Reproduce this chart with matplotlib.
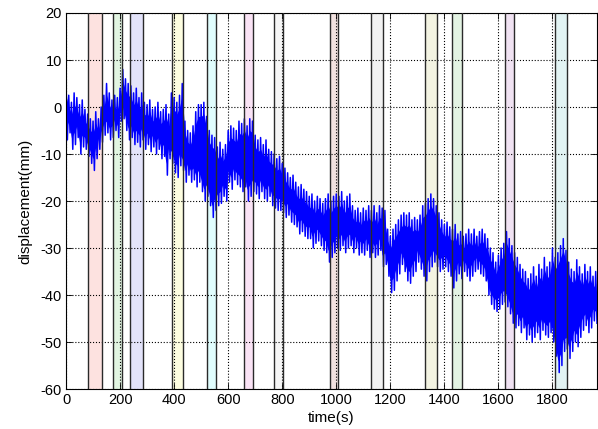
############################################
#import libraries
############################################

import numpy as np
import matplotlib
matplotlib.use('Agg')
import matplotlib.pyplot as plt

############################################
#data (envelope every 10 s)
############################################

t_step = 10
t = np.arange(0, 1970, t_step)

upper = [5.0, 2.5, 1.0, 3.0, 2.0, 0.5, 1.5, -0.5, -1.5, -2.5,
         -3.0, -1.0, -2.5, 0.0, 2.5, 5.0, 3.0, 1.5, 2.5, 2.0,
         4.0, 8.0, 6.0, 5.0, 4.5, 3.0, 4.0, 2.0, 3.0, 1.0,
         0.5, 1.5, -0.5, 0.0, 1.0, -1.0, -0.5, 0.5, -1.5, 3.0,
         2.0, 1.0, 2.5, 5.0, -3.0, -5.0, -5.5, -4.0, -1.0, 0.5,
         0.5, 1.0, -2.0, -5.0, -6.0, -6.5, -8.5, -7.5, -9.0, -8.0,
         -5.0, -4.0, -4.5, -5.0, -3.0, -3.5, -2.5, -4.0, -2.5, -3.0,
         -6.0, -7.0, -6.5, -8.0, -7.0, -9.0, -9.5, -10.0, -11.0, -10.5,
         -12.0, -13.0, -14.0, -15.0, -14.5, -16.0, -17.0, -16.5, -17.5, -18.0,
         -19.0, -18.5, -20.0, -19.0, -19.5, -20.5, -19.5, -18.5, -20.0, -19.0,
         -18.5, -19.0, -18.0, -20.0, -19.0, -18.5, -21.0, -22.0, -21.5, -22.5,
         -21.5, -22.0, -21.0, -22.0, -21.0, -22.5, -21.0, -21.5, -22.0, -26.0,
         -27.5, -26.0, -25.0, -24.0, -23.0, -22.5, -23.0, -22.5, -24.0, -23.5,
         -24.0, -23.0, -21.0, -20.5, -19.5, -18.5, -19.5, -21.0, -22.5, -24.0,
         -25.0, -24.5, -25.5, -26.0, -25.0, -27.0, -26.5, -27.5, -27.0, -26.0,
         -27.0, -26.0, -27.5, -26.5, -26.0, -27.0, -28.0, -30.0, -31.0, -33.0,
         -31.5, -30.0, -29.0, -26.5, -28.0, -29.5, -31.0, -32.0, -33.5, -34.5,
         -35.0, -36.5, -35.5, -34.0, -36.0, -33.5, -34.5, -32.0, -34.0, -33.0,
         -30.0, -32.0, -31.0, -29.5, -28.0, -30.5, -33.0, -34.5, -35.0, -32.5,
         -34.0, -35.5, -33.5, -35.0, -34.0, -36.0, -35.0]

lower = [-7.0, -5.5, -9.0, -8.0, -6.5, -10.0, -8.5, -9.0, -10.5, -12.0,
         -13.5, -11.0, -9.0, -7.5, -6.0, -5.5, -7.0, -6.5, -5.0, -6.5,
         -3.0, -2.5, -5.0, -7.0, -6.5, -8.0, -7.5, -8.5, -7.0, -9.0,
         -8.0, -9.5, -8.5, -10.0, -9.0, -11.0, -10.5, -14.5, -11.0, -12.0,
         -14.0, -15.0, -12.5, -13.5, -16.0, -14.5, -16.0, -15.5, -17.0, -16.0,
         -18.0, -20.0, -19.0, -21.0, -23.5, -22.0, -21.0, -20.5, -19.0, -20.0,
         -16.0, -17.5, -15.5, -16.5, -17.0, -18.0, -17.0, -20.0, -19.0, -18.0,
         -18.5, -19.5, -18.0, -19.5, -20.0, -19.0, -21.0, -21.5, -22.0, -22.0,
         -22.5, -23.5, -23.0, -24.5, -25.0, -25.5, -27.0, -26.5, -27.5, -28.0,
         -28.0, -30.0, -29.0, -28.5, -29.5, -30.5, -31.0, -33.0, -32.0, -31.0,
         -30.0, -30.5, -29.5, -31.0, -30.0, -29.5, -31.0, -30.0, -31.5, -31.0,
         -31.5, -30.5, -32.0, -31.0, -32.0, -31.5, -30.5, -34.0, -33.5, -36.0,
         -39.5, -39.0, -37.0, -35.5, -33.5, -35.0, -37.0, -37.5, -36.0, -35.0,
         -33.0, -34.5, -36.0, -37.0, -35.0, -34.0, -33.0, -34.0, -35.0, -34.5,
         -34.0, -35.0, -36.0, -38.5, -37.0, -35.5, -36.5, -35.0, -36.0, -37.0,
         -36.0, -35.0, -34.5, -35.5, -36.0, -37.0, -40.0, -42.0, -43.0, -43.5,
         -43.0, -42.0, -41.5, -42.5, -44.0, -46.0, -47.0, -46.5, -48.0, -47.0,
         -49.5, -48.5, -50.0, -49.0, -48.0, -49.5, -47.5, -48.5, -49.0, -48.0,
         -50.0, -53.0, -56.5, -55.0, -52.0, -51.5, -53.5, -52.0, -50.0, -51.0,
         -49.0, -47.5, -46.5, -48.0, -47.0, -45.5, -46.0]

#shaded time windows (start, end) and their colours
win_start = [82, 172, 236, 393, 523, 658, 768, 977, 1129, 1328, 1427, 1624, 1809]
win_end = [132, 208, 285, 433, 556, 692, 802, 1008, 1174, 1371, 1467, 1658, 1852]
win_color = ['#fde2e0', '#e2f5e2', '#e3e3fa', '#fdfde0', '#e0fdfd', '#fae3f5',
             '#f6f6f6', '#f2e2e0', '#f2f2f2', '#f3f3e2', '#e3f3e3', '#f0e2f2',
             '#e2f3f3']

############################################
#build the trace: alternate upper / lower samples
############################################
x = np.empty(2 * len(t))
y = np.empty(2 * len(t))
x[0::2] = t
x[1::2] = t + t_step / 2
y[0::2] = upper
y[1::2] = lower

############################################
#figure
############################################
plt.rcParams['font.family'] = ['Liberation Sans', 'DejaVu Sans']
plt.rcParams['axes.unicode_minus'] = False
fig = plt.figure(figsize=(5.98, 4.29), dpi=100)
ax = fig.add_axes([0.1104, 0.0932, 0.8880, 0.8765])

for s, e, c in zip(win_start, win_end, win_color):
    ax.axvspan(s, e, facecolor=c, edgecolor='none', zorder=1)
    ax.axvline(s, color='#2a2a2a', lw=1.0, zorder=3)
    ax.axvline(e, color='#2a2a2a', lw=1.0, zorder=3)

#dense core of the signal + the raw trace on top
ax.fill_between(t, np.array(upper) - 2.5, np.array(lower) + 2.5,
                where=(np.array(upper) - np.array(lower)) > 5,
                color='#0000ff', lw=0, zorder=2)
ax.plot(x, y, color='#0000ff', lw=1.1, zorder=2)

ax.set_xlim(0, 1965)
ax.set_ylim(-60, 20)
ax.set_xticks(np.arange(0, 1801, 200))
ax.set_yticks(np.arange(-60, 21, 10))
ax.grid(True, color='k', linestyle=':', linewidth=0.8, zorder=1.5)
ax.tick_params(direction='in', length=4, top=True, right=True, labelsize=10.5,
               width=0.6, pad=3)
for sp in ax.spines.values():
    sp.set_linewidth(0.8)
ax.set_xlabel('time(s)', fontsize=11, labelpad=3)
ax.set_ylabel('displacement(mm)', fontsize=11, labelpad=6)

plt.savefig('out.png', dpi=100)
